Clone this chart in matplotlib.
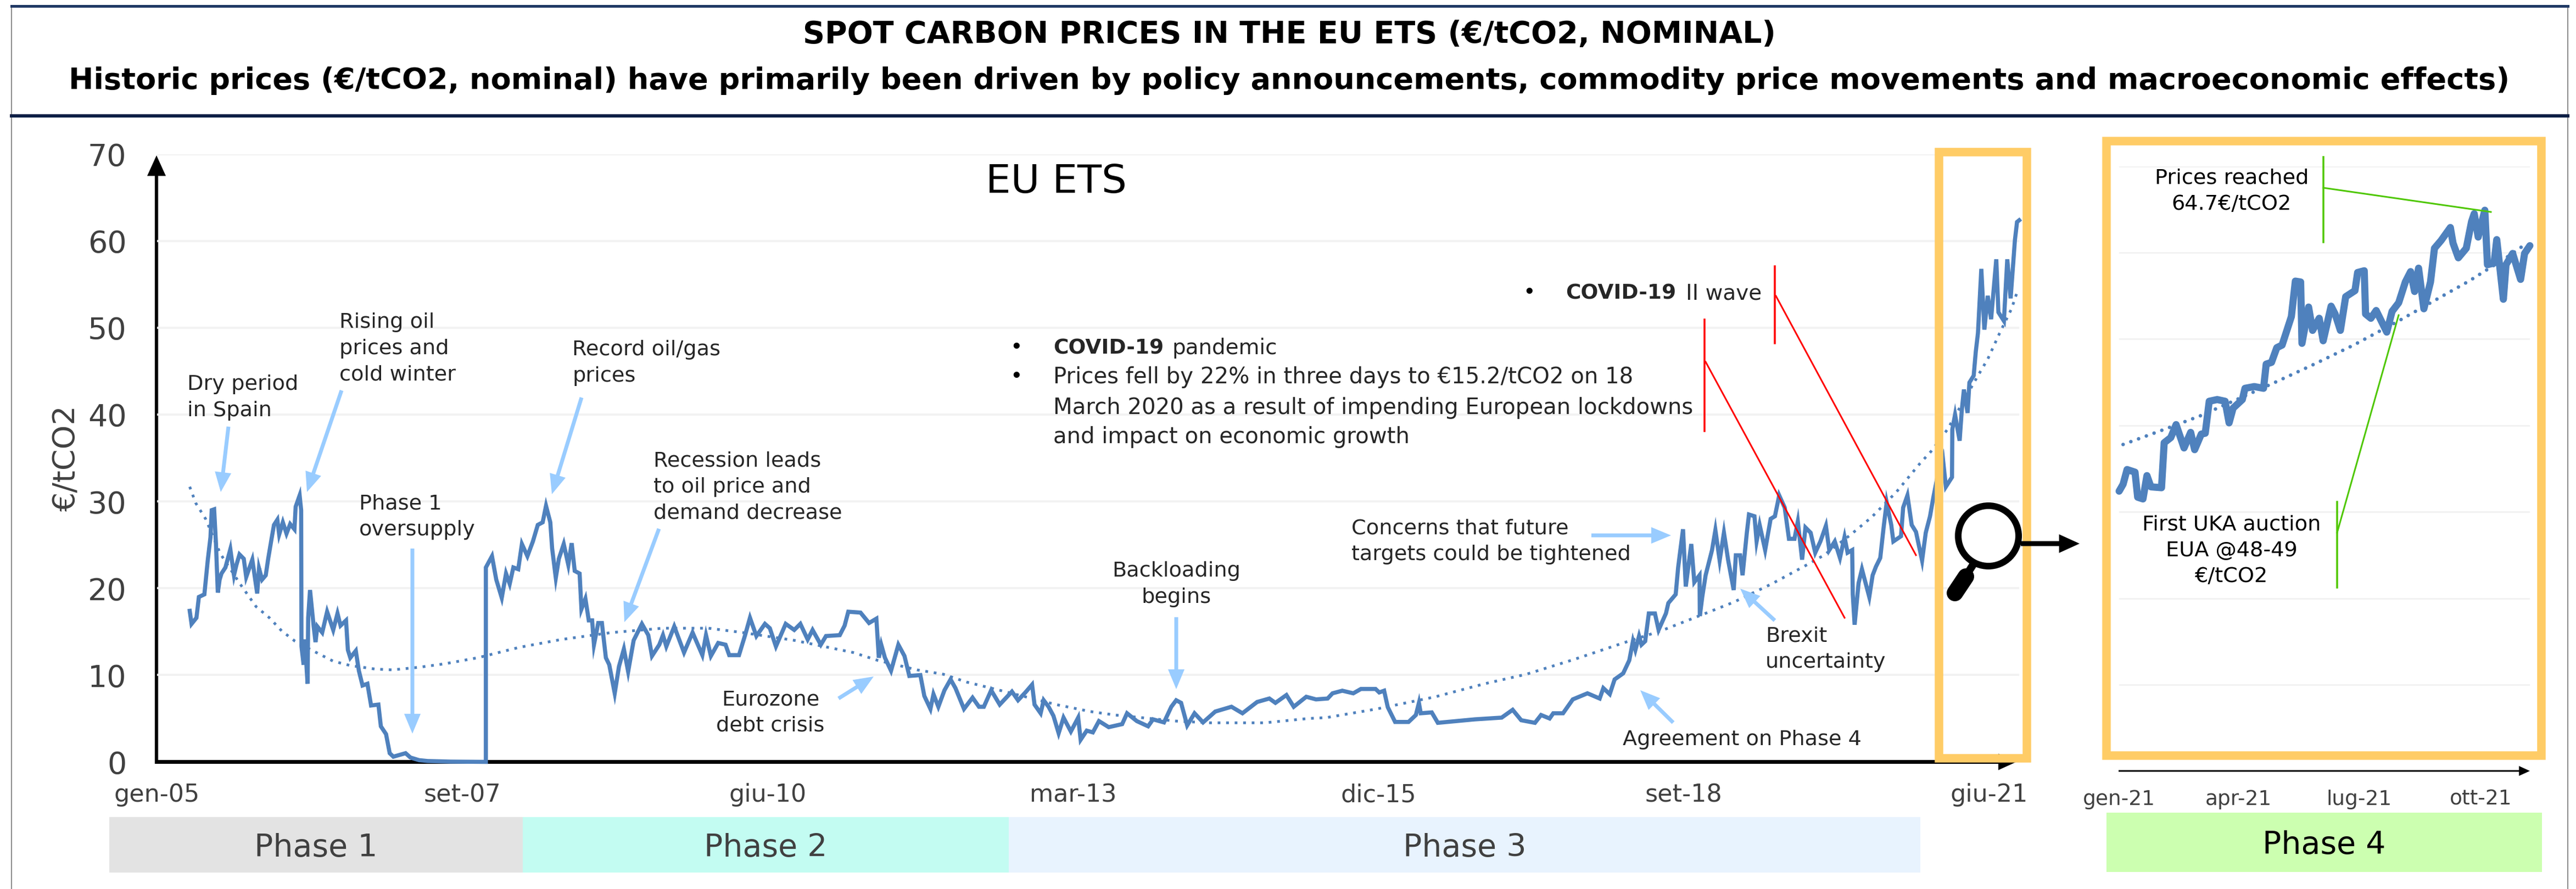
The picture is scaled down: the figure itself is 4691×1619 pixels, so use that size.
import matplotlib
matplotlib.use("Agg")
import matplotlib.pyplot as plt
from matplotlib.patches import Circle, Rectangle

W, H = 4691, 1619
DPI = 100
PX = 72.0 / DPI   # one pixel in points

# main chart: days since 1 Jan 2005, ticks every 1000 days
main_tick_days = [0, 1000, 2000, 3000, 4000, 5000, 6000]
main_tick_labels = ["gen-05", "set-07", "giu-10", "mar-13", "dic-15", "set-18", "giu-21"]
y_ticks = [0, 10, 20, 30, 40, 50, 60, 70]

main_days = [
    107, 113, 129, 137, 155, 166, 175, 179, 187, 193, 199, 205, 211, 224, 240, 252, 260, 270, 284, 292,
    312, 328, 334, 344, 356, 364, 375, 383, 394, 400, 412, 424, 436, 450, 454, 467, 472, 473, 480, 484,
    493, 495, 501, 513, 519, 525, 541, 557, 577, 591, 601, 619, 625, 633, 651, 661, 673, 689, 701, 725,
    733, 750, 762, 774, 814, 830, 858, 886, 962, 1077, 1077, 1097, 1111, 1129, 1143, 1155, 1167, 1183,
    1195, 1213, 1231, 1247, 1263, 1274, 1288, 1294, 1306, 1316, 1332, 1347, 1358, 1368, 1384, 1390,
    1403, 1414, 1425, 1431, 1445, 1457, 1470, 1481, 1499, 1513, 1529, 1543, 1561, 1588, 1609, 1621,
    1645, 1657, 1668, 1694, 1726, 1754, 1786, 1798, 1814, 1838, 1862, 1874, 1906, 1926, 1942, 1963,
    1991, 2007, 2027, 2059, 2087, 2107, 2131, 2147, 2174, 2191, 2236, 2252, 2264, 2304, 2332, 2356,
    2364, 2372, 2384, 2404, 2428, 2448, 2464, 2500, 2513, 2533, 2543, 2559, 2579, 2599, 2615, 2643,
    2671, 2692, 2708, 2732, 2760, 2800, 2820, 2844, 2866, 2874, 2894, 2904, 2920, 2936, 2953, 2969,
    2993, 3017, 3025, 3045, 3065, 3085, 3117, 3161, 3177, 3209, 3246, 3262, 3298, 3322, 3338, 3354,
    3374, 3398, 3426, 3466, 3519, 3555, 3603, 3643, 3663, 3699, 3723, 3764, 3796, 3834, 3850, 3882,
    3918, 3943, 3991, 4003, 4019, 4031, 4055, 4099, 4123, 4133, 4139, 4175, 4195, 4316, 4404, 4440,
    4468, 4513, 4533, 4561, 4573, 4605, 4637, 4685, 4725, 4737, 4758, 4774, 4802, 4822, 4834, 4842,
    4854, 4862, 4874, 4886, 4906, 4918, 4942, 4950, 4974, 4982, 4998, 5007, 5025, 5035, 5052, 5053,
    5061, 5072, 5093, 5104, 5118, 5132, 5146, 5164, 5171, 5185, 5193, 5207, 5214, 5232, 5239, 5249,
    5267, 5285, 5299, 5313, 5331, 5345, 5363, 5374, 5388, 5399, 5416, 5431, 5448, 5466, 5477, 5495,
    5512, 5527, 5537, 5552, 5554, 5560, 5573, 5584, 5608, 5619, 5630, 5644, 5655, 5665, 5680, 5687,
    5712, 5719, 5733, 5747, 5761, 5781, 5793, 5807, 5818, 5835, 5849, 5859, 5879, 5880, 5889, 5904,
    5911, 5918, 5930, 5936, 5950, 5957, 5964, 5975, 5985, 5996, 6007, 6024, 6031, 6049, 6060, 6071,
    6085, 6092, 6099,
]
main_prices = [
    17.4, 15.9, 16.6, 19.0, 19.3, 23.2, 25.9, 29.0, 29.1, 25.1, 19.5, 21.0, 21.7, 22.4, 24.5, 21.5, 22.7, 23.9, 23.4, 21.3,
    23.3, 19.4, 22.3, 21.0, 21.5, 23.4, 25.7, 27.3, 27.9, 26.2, 27.6, 26.3, 27.4, 26.8, 29.4, 30.7, 29.0, 13.3, 11.2, 14.1,
    9.0, 16.6, 19.8, 15.6, 13.8, 15.6, 14.9, 17.3, 15.2, 17.1, 15.7, 16.3, 12.9, 12.0, 12.8, 10.5, 8.8, 9.0, 6.5, 6.6,
    4.1, 3.2, 1.0, 0.6, 1.0, 0.5, 0.2, 0.1, 0.03, 0.0, 22.4, 23.7, 21.0, 18.9, 21.7, 20.5, 22.4, 22.2,
    25.1, 23.7, 25.4, 27.3, 27.6, 29.5, 27.6, 24.6, 21.2, 23.4, 25.1, 22.7, 25.2, 22.0, 21.7, 17.6,
    18.8, 16.3, 16.3, 13.5, 16.0, 16.0, 12.0, 11.2, 7.9, 11.0, 13.0, 10.4, 14.0, 15.9, 14.6, 12.2,
    13.5, 14.6, 13.3, 15.6, 12.6, 14.9, 12.3, 14.6, 12.2, 13.7, 13.5, 12.3, 12.3, 14.6, 16.6, 14.5,
    15.9, 15.4, 13.3, 15.9, 15.2, 15.9, 14.1, 15.2, 13.5, 14.5, 14.6, 15.7, 17.3, 17.2, 16.0, 16.5,
    12.0, 13.5, 12.0, 10.5, 13.5, 12.2, 9.9, 10.0, 7.6, 6.1, 7.8, 6.35, 8.25, 9.5, 8.5, 6.1,
    7.4, 6.35, 6.35, 8.25, 6.6, 8.1, 7.1, 8.0, 8.9, 6.6, 5.6, 7.1, 6.35, 5.3, 3.3, 5.1,
    3.5, 5.1, 2.55, 3.6, 3.4, 4.7, 4.0, 4.35, 5.6, 4.7, 4.1, 4.9, 4.55, 6.35, 7.1, 6.8,
    4.2, 5.6, 4.55, 5.8, 6.35, 5.6, 6.9, 7.3, 6.8, 7.7, 6.35, 7.5, 7.2, 7.3, 7.9, 8.2,
    7.9, 8.4, 8.4, 8.0, 8.2, 6.3, 4.6, 4.6, 5.4, 6.8, 5.6, 5.7, 4.5, 4.9, 5.1, 6.0,
    4.8, 4.5, 5.4, 5.0, 5.6, 5.6, 7.2, 7.9, 7.3, 8.5, 7.8, 9.5, 10.2, 11.7, 13.9, 12.9,
    14.5, 13.5, 13.9, 17.1, 17.1, 15.2, 17.1, 18.3, 19.3, 22.4, 26.8, 20.2, 25.1, 20.7, 21.5, 16.8,
    19.0, 21.5, 24.4, 26.7, 23.2, 26.4, 23.2, 19.8, 23.8, 23.8, 21.5, 26.4, 28.5, 28.3, 25.4, 27.3,
    24.4, 28.0, 28.3, 30.7, 29.3, 25.7, 25.7, 27.7, 23.3, 27.0, 26.4, 24.1, 25.4, 27.2, 24.4, 25.4,
    23.5, 25.9, 24.1, 24.4, 19.3, 15.8, 20.6, 22.2, 19.0, 21.5, 22.5, 23.5, 27.0, 29.9, 27.3, 25.4,
    26.0, 29.3, 30.7, 27.3, 26.5, 23.2, 26.4, 28.3, 30.5, 33.5, 35.0, 31.7, 32.8, 38.3, 40.0, 37.0,
    40.5, 42.9, 40.2, 43.7, 44.5, 47.3, 49.4, 56.8, 49.8, 53.7, 51.0, 57.9, 51.8, 50.8, 57.9, 53.4,
    60.1, 62.2, 62.4,
]

trend_days = [
    107, 127, 159, 207, 272, 324, 368, 408, 452, 505, 577, 633, 713, 770, 858, 942, 1051, 1187, 1324,
    1489, 1657, 1806, 1918, 2087, 2280, 2360, 2489, 2575, 2651, 2760, 2945, 3057, 3137, 3338, 3450,
    3627, 3771, 3830, 3995, 4187, 4348, 4485, 4641, 4802, 4926, 5035, 5164, 5288, 5409, 5459, 5548,
    5616, 5697, 5772, 5811, 5864, 5964, 5996, 6035, 6074, 6092,
]
trend_prices = [
    31.7, 29.8, 28.0, 24.0, 20.5, 17.9, 16.6, 15.1, 13.9, 12.9, 11.6, 11.1, 10.7, 10.6, 10.9, 11.3, 12.0, 13.2, 14.1,
    14.9, 15.4, 15.4, 14.9, 14.0, 12.6, 11.7, 10.6, 10.1, 9.2, 8.25, 6.6, 5.8, 5.4, 4.7, 4.5,
    4.5, 5.0, 5.1, 6.1, 7.5, 9.0, 10.1, 11.8, 13.7, 15.1, 16.6, 18.4, 20.5, 22.8, 23.8, 26.2,
    28.2, 31.1, 34.3, 35.8, 38.3, 44.5, 46.4, 49.4, 52.2, 54.1,
]

# zoomed 2021 chart: days since 1 Jan 2021
zoom_tick_days = [0, 90, 181, 273]
zoom_tick_labels = ["gen-21", "apr-21", "lug-21", "ott-21"]
zoom_days = [
    0, 3, 6, 12, 14, 18, 21, 24, 32, 34, 39, 43, 49, 54, 57, 62, 65, 68, 74, 80, 83, 86, 93, 95, 102,
    109, 111, 115, 119, 123, 130, 133, 137, 138, 143, 146, 151, 154, 160, 163, 167, 171, 178, 180, 185,
    186, 190, 194, 202, 206, 211, 216, 220, 223, 226, 230, 235, 238, 243, 250, 252, 256, 262, 266, 268,
    271, 276, 278, 283, 285, 290, 292, 297, 303, 306, 310,
]
zoom_prices = [
    32.4, 33.2, 34.9, 34.6, 31.7, 31.5, 34.2, 32.9, 32.8, 38.0, 38.6, 40.1, 37.4, 39.2, 37.2, 39.0, 39.1, 42.8, 43.0, 42.8, 40.3, 42.0, 43.0, 44.3, 44.5,
    44.3, 47.1, 47.3, 49.0, 49.3, 52.6, 56.7, 56.6, 49.5, 53.7, 51.0, 52.4, 49.8, 53.8, 52.9, 51.0, 54.9, 55.6, 57.7, 57.9,
    52.9, 52.4, 53.3, 50.8, 53.2, 54.2, 56.6, 57.8, 55.5, 58.2, 53.5, 56.6, 60.5, 61.4, 62.9, 61.1, 59.4, 60.5, 63.6, 64.5,
    61.8, 64.9, 58.6, 58.8, 61.5, 54.6, 58.6, 59.9, 56.9, 59.9, 60.8,
]
zoom_trend_days = [3, 35, 61, 115, 146, 177, 211, 242, 264, 295, 305]
zoom_trend_prices = [37.8, 39.6, 41.1, 44.8, 47.0, 49.3, 52.1, 54.8, 56.7, 59.7, 60.8]

phase_names = ["Phase 1", "Phase 2", "Phase 3", "Phase 4"]
phase_colors = ["#E3E3E3", "#C3FCF2", "#E8F3FE", "#CCFFB0"]

BLUE = "#4F81BD"
ARROW = "#99CCFF"
YELLOW = "#FFCC66"
GREY = "#404040"
DARK = "#262626"


def axes_at(left, right, top, bottom, **kw):
    return fig.add_axes([left / W, 1 - bottom / H, (right - left) / W, (bottom - top) / H], **kw)


def pixel_axes(z):
    a = fig.add_axes([0, 0, 1, 1], zorder=z)
    a.set_xlim(0, W)
    a.set_ylim(H, 0)
    a.axis("off")
    a.patch.set_alpha(0)
    return a


fig = plt.figure(figsize=(W / DPI, H / DPI), dpi=DPI, facecolor="white")

# the black axis arrows sit under the price lines
base = pixel_axes(0)

# main chart
ax = axes_at(286, 3677, 281, 1387.5, zorder=1)
ax.patch.set_visible(False)
ax.set_xlim(0, 6099)
ax.set_ylim(0, 70)
ax.plot(trend_days, trend_prices, color=BLUE, lw=5 * PX, ls=(0, (1, 2.1)), clip_on=False, zorder=3)
ax.plot(main_days, main_prices, color=BLUE, lw=7.5 * PX, solid_joinstyle="miter", clip_on=False, zorder=4)
ax.set_xticks(main_tick_days)
ax.set_xticklabels(main_tick_labels)
ax.set_yticks(y_ticks)
ax.grid(axis="y", color="#F2F2F2", lw=4 * PX)
ax.get_ygridlines()[0].set_visible(False)   # the black axis is at 0
ax.set_axisbelow(True)
ax.tick_params(axis="x", length=0, pad=28, labelsize=32, labelcolor=GREY)
ax.tick_params(axis="y", length=0, pad=40, labelsize=40, labelcolor=GREY)
ax.set_ylabel("€/tCO2", fontsize=40, color=GREY, labelpad=8)
for s in ax.spines.values():
    s.set_visible(False)

# zoomed chart
az = axes_at(3859, 4607, 302.6, 1404.5, zorder=1)
az.patch.set_visible(False)
az.set_xlim(0, 310)
az.set_ylim(0, 70)
az.plot(zoom_trend_days, zoom_trend_prices, color=BLUE, lw=6.5 * PX, ls=(0, (0.01, 2.3)),
        dash_capstyle="round", zorder=3)
az.plot(zoom_days, zoom_prices, color=BLUE, lw=13 * PX, solid_joinstyle="round", solid_capstyle="round",
        clip_on=False, zorder=4)
az.set_xticks(zoom_tick_days)
az.set_xticklabels(zoom_tick_labels)
az.set_yticks(y_ticks[1:])
az.set_yticklabels([])
az.grid(axis="y", color="#F2F2F2", lw=3 * PX)
az.set_axisbelow(True)
az.tick_params(axis="x", length=0, pad=24, labelsize=27, labelcolor=GREY)
az.tick_params(axis="y", length=0)
for s in az.spines.values():
    s.set_visible(False)

# overlay in image pixels for the decoration
ov = pixel_axes(10)

# frame
ov.plot([21, 21], [11, H], color="#8C8C8C", lw=2 * PX)
ov.plot([4676, 4676], [11, H], color="#8C8C8C", lw=2 * PX)
ov.plot([21, 4676], [11, 11], color="#1F3864", lw=5 * PX)
ov.plot([21, 4676], [211, 211], color="#0B1F45", lw=6 * PX)
ov.text(2348, 63, "SPOT CARBON PRICES IN THE EU ETS (€/tCO2, NOMINAL)", fontsize=40, weight="bold",
        ha="center", va="center", color="black")
ov.text(2348, 147, "Historic prices (€/tCO2, nominal) have primarily been driven by policy announcements, "
        "commodity price movements and macroeconomic effects)", fontsize=39, weight="bold",
        ha="center", va="center", color="black")


def axis_arrow(a, x0, y0, x1, y1, lw, head):
    a.annotate("", xy=(x1, y1), xytext=(x0, y0), annotation_clip=False,
               arrowprops=dict(width=lw * PX, headwidth=head * PX, headlength=head * 1.1 * PX,
                               shrink=0, lw=0, color="black"))


axis_arrow(base, 285, 1390, 285, 283, 6, 34)
axis_arrow(base, 282, 1387.5, 3672, 1387.5, 7, 30)
axis_arrow(base, 3858, 1404, 4607, 1404, 3, 18)

# yellow highlight boxes
for x0, x1, y0, y1 in [(3530.5, 3691, 277.5, 1381), (3836, 4628, 257.5, 1375.5)]:
    ov.add_patch(Rectangle((x0, y0), x1 - x0, y1 - y0, fill=False, ec=YELLOW, lw=15.5 * PX, joinstyle="miter"))

# phase bars
phase_boxes = [(199, 952, 1488, 1589), (952, 1837, 1488, 1589), (1837, 3497, 1488, 1589), (3836, 4629, 1480, 1588)]
for name, col, (x0, x1, y0, y1) in zip(phase_names, phase_colors, phase_boxes):
    ov.add_patch(Rectangle((x0, y0), x1 - x0, y1 - y0, fc=col, ec="none"))
    ov.text((x0 + x1) / 2, 1544 if name != "Phase 4" else 1539, name, fontsize=41, ha="center", va="center",
            color=GREY if name != "Phase 4" else "black")

ov.text(1923, 332, "EU ETS", fontsize=52, ha="center", va="center", color="black")

# notes on the chart
NOTE = 27.5
notes = [
    (341, 724, "Dry period\nin Spain", "left"),
    (618, 635, "Rising oil\nprices and\ncold winter", "left"),
    (1042, 661, "Record oil/gas\nprices", "left"),
    (654, 941, "Phase 1\noversupply", "left"),
    (1190, 887, "Recession leads\nto oil price and\ndemand decrease", "left"),
    (1403, 1298, "Eurozone\ndebt crisis", "center"),
    (2142, 1064, "Backloading\nbegins", "center"),
    (2461, 986, "Concerns that future\ntargets could be tightened", "left"),
    (3215, 1182, "Brexit\nuncertainty", "left"),
    (2955, 1347, "Agreement on Phase 4", "left"),
]
for x, y, s, ha in notes:
    ov.text(x, y, s, fontsize=NOTE, ha=ha, va="center", multialignment=ha, color=DARK, linespacing=1.42)

for x, y in [(1851, 634), (1851, 687), (2785, 534)]:
    ov.text(x, y, "•", fontsize=NOTE, ha="center", va="center", color="black")
ov.text(1918, 634, "COVID-19", fontsize=27, weight="bold", va="center", color=DARK)
ov.text(2134, 634, "pandemic", fontsize=28, va="center", color=DARK)
ov.text(1918, 687, "Prices fell by 22% in three days to €15.2/tCO2 on 18", fontsize=29, va="center", color=DARK)
ov.text(1918, 743, "March 2020 as a result of impending European lockdowns", fontsize=29, va="center", color=DARK)
ov.text(1918, 796, "and impact on economic growth", fontsize=29, va="center", color=DARK)
ov.text(2851, 534, "COVID-19", fontsize=27, weight="bold", va="center", color=DARK)
ov.text(3070, 534, "II wave", fontsize=28, va="center", color=DARK)

ov.text(4064, 348, "Prices reached\n64.7€/tCO2", fontsize=27.5, ha="center", va="center", multialignment="center",
        color="black", linespacing=1.4)
ov.text(4064, 1003, "First UKA auction\nEUA @48-49\n€/tCO2", fontsize=27.5, ha="center", va="center",
        multialignment="center", color="black", linespacing=1.4)

# light blue arrows
note_arrows = [
    ((416, 777), (402, 896)),
    ((622, 711), (559, 896)),
    ((1059, 724), (1005, 900)),
    ((751, 999), (751, 1336)),
    ((1200, 963), (1137, 1133)),
    ((1527, 1272), (1591, 1232)),
    ((2142, 1124), (2142, 1255)),
    ((2898, 975), (3043, 975)),
    ((3232, 1130), (3169, 1072)),
    ((3047, 1316), (2987, 1257)),
]
for tail, tip in note_arrows:
    ov.annotate("", xy=tip, xytext=tail,
                arrowprops=dict(width=7 * PX, headwidth=30 * PX, headlength=36 * PX, shrink=0, lw=0, color=ARROW))

# callout leaders
leaders = [
    ("#FF0000", [(3104, 582), (3104, 785)], [(3106, 659), (3359, 1125)]),
    ("#FF0000", [(3232, 485), (3232, 625)], [(3234, 539), (3489, 1011)]),
    ("#4EC700", [(4231, 286), (4231, 441)], [(4231, 342), (4536, 386)]),
    ("#4EC700", [(4256, 914), (4256, 1070)], [(4256, 970), (4368, 574)]),
]
for col, bar, diag in leaders:
    ov.plot(*zip(*bar), color=col, lw=3.5 * PX)
    ov.plot(*zip(*diag), color=col, lw=3 * PX)

# magnifier
ov.add_patch(Circle((3621, 976), 55, fill=False, ec="black", lw=12 * PX))
ov.plot([3592, 3578], [1030, 1052], color="black", lw=14 * PX)
ov.plot([3580, 3560], [1050, 1080], color="black", lw=30 * PX, solid_capstyle="round")
axis_arrow(ov, 3680, 990, 3787, 990, 9, 34)

fig.savefig("out.png", dpi=DPI)
